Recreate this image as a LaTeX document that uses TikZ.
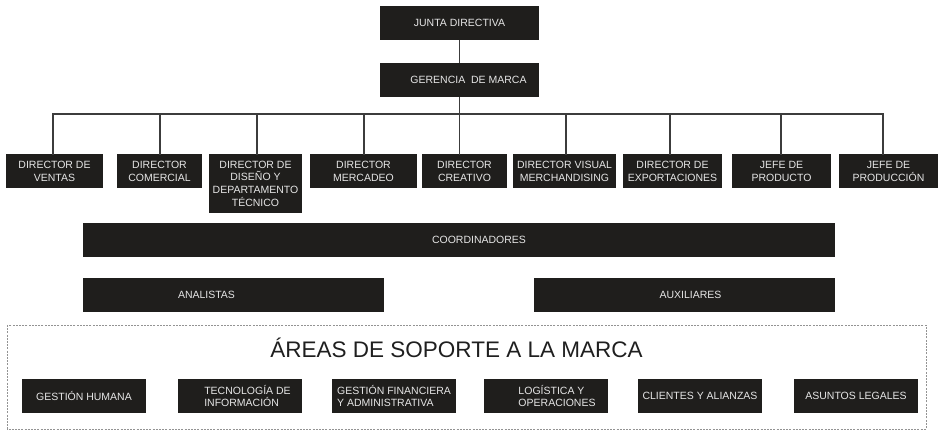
\documentclass[tikz,border=0pt]{standalone}
\usepackage{fontspec}
\setmainfont{Liberation Sans}
\usepackage{xcolor}
\usepackage{tikz}
\usetikzlibrary{positioning}
\definecolor{caja}{HTML}{1F1E1C}
\definecolor{letra}{HTML}{E6E6E6}
\definecolor{linea}{HTML}{3C3C3C}
\tikzset{
  cargo/.style={fill=caja,text=letra,minimum height=34pt,inner xsep=1pt,inner ysep=6.5pt,
    align=center,font=\fontsize{10.5}{12.7}\selectfont},
  area/.style={cargo,minimum width=124pt,align=left},
  conector/.style={draw=linea,line width=1.2pt,line cap=rect},
  soporte/.style={draw=gray!85,dash pattern=on 2pt off 1.2pt,line width=0.8pt},
  titulo/.style={text=black!88,font=\fontsize{22.5}{26}\selectfont,inner sep=0pt}
}

\begin{document}
\begin{tikzpicture}[x=1pt,y=-1pt]
\useasboundingbox (0,0) rectangle (940,430);
%%direccion
\path (459.5,23) node[cargo,minimum width=159pt] (junta) {JUNTA DIRECTIVA}
(459.5,80) node[cargo,minimum width=159pt] (gerencia) {\hspace*{18pt}GERENCIA~ DE MARCA};
\path (459,114) coordinate (barra);
%%now the directors
\path (54.5,154) node[cargo,anchor=north,minimum width=97pt] (dir1) {DIRECTOR DE\\VENTAS}
(159.5,154) node[cargo,anchor=north,minimum width=85pt] (dir2) {DIRECTOR\\COMERCIAL}
(255.5,154) node[cargo,anchor=north,minimum width=93pt] (dir3) {DIRECTOR DE\\DISEÑO Y\\DEPARTAMENTO\\TÉCNICO}
(363.5,154) node[cargo,anchor=north,minimum width=107pt] (dir4) {DIRECTOR\\MERCADEO}
(464.5,154) node[cargo,anchor=north,minimum width=85pt] (dir5) {DIRECTOR\\CREATIVO}
(564.5,154) node[cargo,anchor=north,minimum width=103pt] (dir6) {DIRECTOR VISUAL\\MERCHANDISING}
(672.5,154) node[cargo,anchor=north,minimum width=99pt] (dir7) {DIRECTOR DE\\EXPORTACIONES}
(781.5,154) node[cargo,anchor=north,minimum width=99pt] (dir8) {JEFE DE\\PRODUCTO}
(888.5,154) node[cargo,anchor=north,minimum width=99pt] (dir9) {JEFE DE\\PRODUCCIÓN};
%%lines of the tree
\draw[conector] (junta) -- (gerencia);
\draw[conector] (gerencia.south) -- (gerencia.south |- dir5.north);
\foreach \n/\x in {dir1/53,dir2/160,dir3/257,dir4/364,dir6/566,dir7/670,dir8/781,dir9/883}{
  \path (barra -| \x,0) coordinate (b\n);
  \draw[conector] (b\n) -- (\n.north -| b\n);
}
\draw[conector] (bdir1) -- (bdir9);
%%lower levels
\path (459,240) node[cargo,minimum width=752pt] (coord) {\hspace*{40pt}COORDINADORES}
(233.5,295) node[cargo,minimum width=301pt] (anal) {ANALISTAS\hspace*{54pt}}
(684.5,295) node[cargo,minimum width=301pt] (aux) {\hspace*{12pt}AUXILIARES};
%%support areas
\draw[soporte] (7,325) rectangle (926,429);
\path (456.5,357) node[titulo,anchor=base] (areas) {ÁREAS DE SOPORTE A LA MARCA};
\path (84,396) node[area] (sop1) {GESTIÓN HUMANA}
(240,396) node[area] (sop2) {\hspace*{15pt}TECNOLOGÍA DE\\\hspace*{15pt}INFORMACIÓN}
(394,396) node[area] (sop3) {GESTIÓN FINANCIERA\\Y ADMINISTRATIVA}
(546,396) node[area] (sop4) {\hspace*{22pt}LOGÍSTICA Y\\\hspace*{22pt}OPERACIONES}
(700,396) node[area] (sop5) {CLIENTES Y ALIANZAS}
(856,396) node[area] (sop6) {ASUNTOS LEGALES};
\end{tikzpicture}
\end{document}
